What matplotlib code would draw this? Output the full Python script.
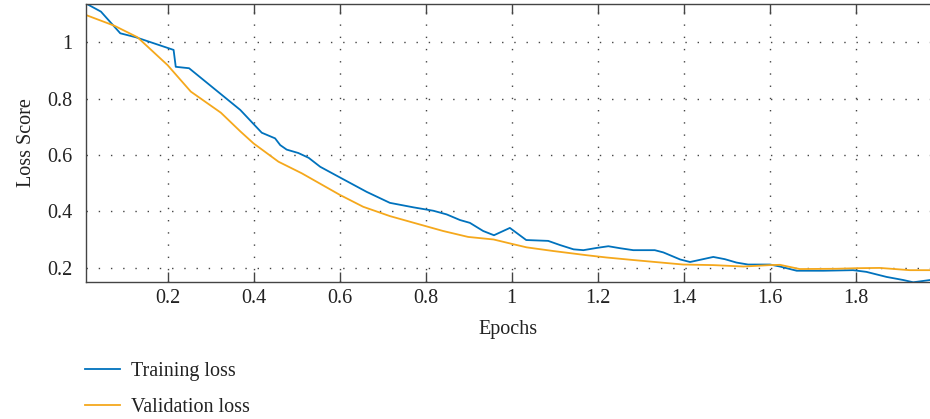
import matplotlib
matplotlib.use('Agg')
import matplotlib.pyplot as plt

# values
train_x = [0.010, 0.045, 0.090, 0.126, 0.214, 0.219, 0.250, 0.369, 0.419, 0.450,
           0.462, 0.477, 0.504, 0.528, 0.555, 0.601, 0.663, 0.717, 0.772, 0.818,
           0.849, 0.880, 0.903, 0.934, 0.959, 0.996, 1.034, 1.085, 1.113, 1.144,
           1.167, 1.198, 1.225, 1.252, 1.283, 1.333, 1.353, 1.392, 1.415, 1.469,
           1.496, 1.523, 1.550, 1.601, 1.624, 1.663, 1.725, 1.794, 1.825, 1.872,
           1.911, 1.934, 1.973]
train_loss = [1.138, 1.109, 1.032, 1.018, 0.973, 0.913, 0.908, 0.760, 0.679, 0.659,
              0.635, 0.619, 0.607, 0.590, 0.558, 0.520, 0.469, 0.430, 0.414, 0.402,
              0.389, 0.369, 0.359, 0.330, 0.315, 0.341, 0.298, 0.295, 0.280, 0.265,
              0.262, 0.270, 0.276, 0.269, 0.262, 0.262, 0.254, 0.229, 0.220, 0.238,
              0.230, 0.218, 0.211, 0.211, 0.204, 0.189, 0.189, 0.191, 0.185, 0.167,
              0.156, 0.148, 0.156]

val_x = [0.010, 0.076, 0.130, 0.200, 0.254, 0.324, 0.369, 0.400, 0.458, 0.512,
         0.601, 0.655, 0.717, 0.780, 0.841, 0.899, 0.958, 0.996, 1.035, 1.097,
         1.175, 1.221, 1.283, 1.399, 1.469, 1.539, 1.601, 1.624, 1.670, 1.756,
         1.802, 1.856, 1.926, 1.973]
val_loss = [1.097, 1.059, 1.018, 0.919, 0.825, 0.750, 0.684, 0.641, 0.576, 0.535,
            0.458, 0.416, 0.383, 0.356, 0.330, 0.309, 0.300, 0.286, 0.272, 0.259,
            0.244, 0.236, 0.227, 0.211, 0.209, 0.204, 0.209, 0.210, 0.195, 0.196,
            0.198, 0.199, 0.191, 0.191]

x_ticks = [0.2, 0.4, 0.6, 0.8, 1.0, 1.2, 1.4, 1.6, 1.8]
x_labels = ['0.2', '0.4', '0.6', '0.8', '1', '1.2', '1.4', '1.6', '1.8']
y_ticks = [0.2, 0.4, 0.6, 0.8, 1.0]
y_labels = ['0.2', '0.4', '0.6', '0.8', '1']

plt.rcParams['font.family'] = ['Liberation Serif', 'DejaVu Serif']
fs = 14.5

fig = plt.figure(figsize=(9.3, 4.19), dpi=100)
ax = fig.add_axes([86 / 930, 1 - 282 / 419, 1 - 86 / 930, 278 / 419])

ax.plot(train_x, train_loss, color='#0072BD', lw=1.3, label='Training loss')
ax.plot(val_x, val_loss, color='#F5A81C', lw=1.3, label='Validation loss')

ax.set_xlim(0.0103, 1.973)
ax.set_ylim(0.149, 1.136)
ax.set_xticks(x_ticks)
ax.set_xticklabels(x_labels)
ax.set_yticks(y_ticks)
ax.set_yticklabels(y_labels)

ax.grid(True, color='#444444', lw=1.0, linestyle=(0, (1, 7.8)))
ax.tick_params(axis='x', direction='in', length=7, width=1, color='#444444',
               top=True, pad=5, labelsize=fs, labelcolor='#222222')
ax.tick_params(axis='y', length=0, pad=10, labelsize=fs, labelcolor='#222222')
for side in ['left', 'top', 'bottom']:
    ax.spines[side].set_color('#444444')
    ax.spines[side].set_linewidth(1)
ax.spines['right'].set_visible(False)

ax.set_xlabel('Epochs', fontsize=fs, labelpad=9, color='#222222')
ax.set_ylabel('Loss Score', fontsize=fs, labelpad=8, color='#222222')

leg = fig.legend(loc='upper left', bbox_to_anchor=(85 / 930, 1 - 362 / 419),
                 frameon=False, borderpad=0, borderaxespad=0, handlelength=1.75,
                 handletextpad=0.55, labelspacing=0.85, fontsize=fs)
for t in leg.get_texts():
    t.set_color('#222222')

fig.savefig('out.png', dpi=100)
